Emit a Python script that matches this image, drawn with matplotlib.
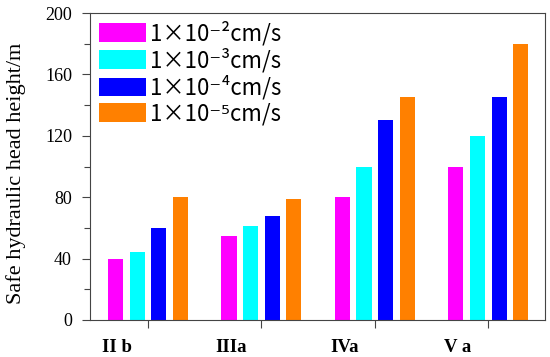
import matplotlib
matplotlib.use('Agg')
import matplotlib.pyplot as plt
import numpy as np

# data
zones = ['II b', 'IIIa', 'IVa', 'V a']
labels = ['1×10⁻²cm/s', '1×10⁻³cm/s', '1×10⁻⁴cm/s', '1×10⁻⁵cm/s']
k_1e2 = [40, 55, 80, 100]
k_1e3 = [44, 61, 100, 120]
k_1e4 = [60, 68, 130, 145]
k_1e5 = [80, 79, 145, 180]

series = [k_1e2, k_1e3, k_1e4, k_1e5]
colors = ['#FF00FF', '#00FFFF', '#0000FF', '#FF8000']

fig = plt.figure(figsize=(5.5, 3.57), dpi=100)
ax = fig.add_axes([90 / 550, 1 - 320 / 357, 455 / 550, 307 / 357])

x = np.arange(len(zones))
width = 0.133
offsets = [-0.285, -0.095, 0.095, 0.285]

for vals, off, col, lab in zip(series, offsets, colors, labels):
    ax.bar(x + off, vals, width=width, color=col, label=lab)

ax.set_xlim(-0.51, 3.5)
ax.set_ylim(0, 200)
ax.set_yticks(np.arange(0, 201, 40))
ax.set_yticks(np.arange(20, 200, 40), minor=True)

# ticks at group centres, category names sit a bit left of them
ax.set_xticks(x)
ax.set_xticklabels([])
ax.set_xticks(x - 0.27, minor=True)
ax.set_xticklabels(zones, minor=True, family='Liberation Serif',
                   fontsize=13.5, fontweight='bold')
ax.tick_params(axis='x', which='minor', length=0, pad=14)

for t in ax.get_yticklabels():
    t.set_family('Liberation Serif')
    t.set_fontsize(13)

ax.tick_params(axis='both', which='major', direction='out', length=6,
               width=0.8, color='#444444')
ax.tick_params(axis='y', which='minor', direction='out', length=4,
               width=0.8, color='#444444')
ax.tick_params(axis='y', which='major', pad=7)
for s in ax.spines.values():
    s.set_linewidth(0.8)
    s.set_color('#444444')

ax.set_ylabel('Safe hydraulic head height/m', family='Liberation Serif',
              fontsize=16)
ax.yaxis.set_label_coords(-64 / 455, 0.476)

ax.legend(loc='upper left', bbox_to_anchor=(0.02, 0.975), frameon=False,
          prop={'family': ['Noto Sans CJK SC', 'DejaVu Sans'], 'size': 16},
          handlelength=2.1, handleheight=0.9, handletextpad=0.2,
          labelspacing=0.12, borderpad=0, borderaxespad=0)

fig.savefig('out.png', dpi=100)
